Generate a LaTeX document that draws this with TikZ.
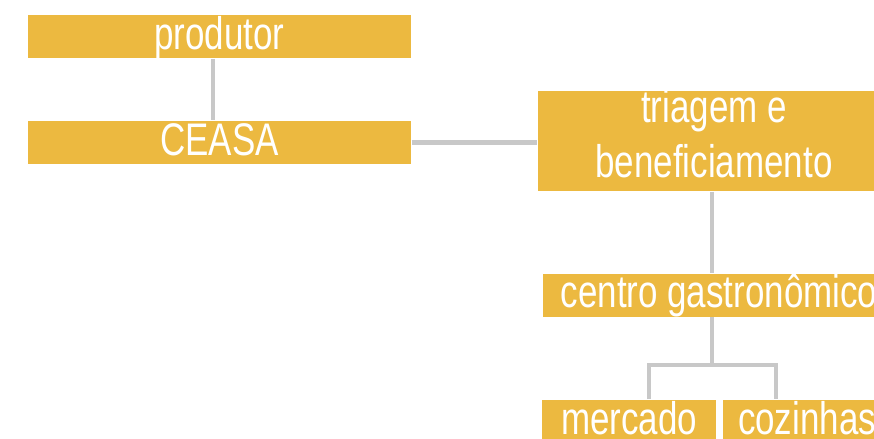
\documentclass[tikz,border=0pt]{standalone}
\usepackage{fontspec}
\setmainfont[FakeStretch=0.765]{Liberation Sans}
\definecolor{ouro}{RGB}{236,185,64}
\definecolor{cinza}{RGB}{200,200,200}

\begin{document}
\begin{tikzpicture}[caixa/.style={fill=ouro,text=white,inner sep=0pt,font=\fontsize{13}{15.5}\selectfont},
  linha1/.style={caixa,minimum height=0.43cm,text height=0.34cm,text depth=0.09cm},
  liga/.style={draw=cinza,line width=1.2pt}]
\useasboundingbox (0,0) rectangle (8.74,4.38);
% caixas
\node[linha1,minimum width=3.83cm] (produtor) at (2.195,4.015) {produtor};
\node[linha1,minimum width=3.83cm] (CEASA) at (2.195,2.955) {CEASA};
\node[caixa,align=center,minimum width=3.52cm,text height=0.86cm,text depth=0.14cm] (triagem) at (7.14,2.97) {triagem e\\beneficiamento};
\node[linha1,minimum width=3.52cm] (centro) at (7.19,1.43) {centro gastronômico};
\node[linha1,minimum width=1.74cm] (mercado) at (6.29,0.165) {mercado};
\node[linha1,minimum width=1.68cm] (cozinhas) at (8.07,0.165) {cozinhas};
% ligacoes
\coordinate (esq) at (6.49,0.73);
\coordinate (dir) at (7.76,0.73);
\draw[liga] ([xshift=-0.065cm]produtor.south) -- ([xshift=-0.065cm]CEASA.north);
\draw[liga] (CEASA.east) -- (CEASA.east -| triagem.west);
\draw[liga] ([xshift=-0.02cm]triagem.south) -- ([xshift=-0.02cm]triagem.south |- centro.north);
\draw[liga] ([xshift=-0.02cm]centro.south -| triagem.south) -- ([xshift=-0.02cm]esq -| triagem.south);
\draw[liga] (esq |- mercado.north) -- (esq) -- (dir) -- (dir |- cozinhas.north);
\end{tikzpicture}
\end{document}
